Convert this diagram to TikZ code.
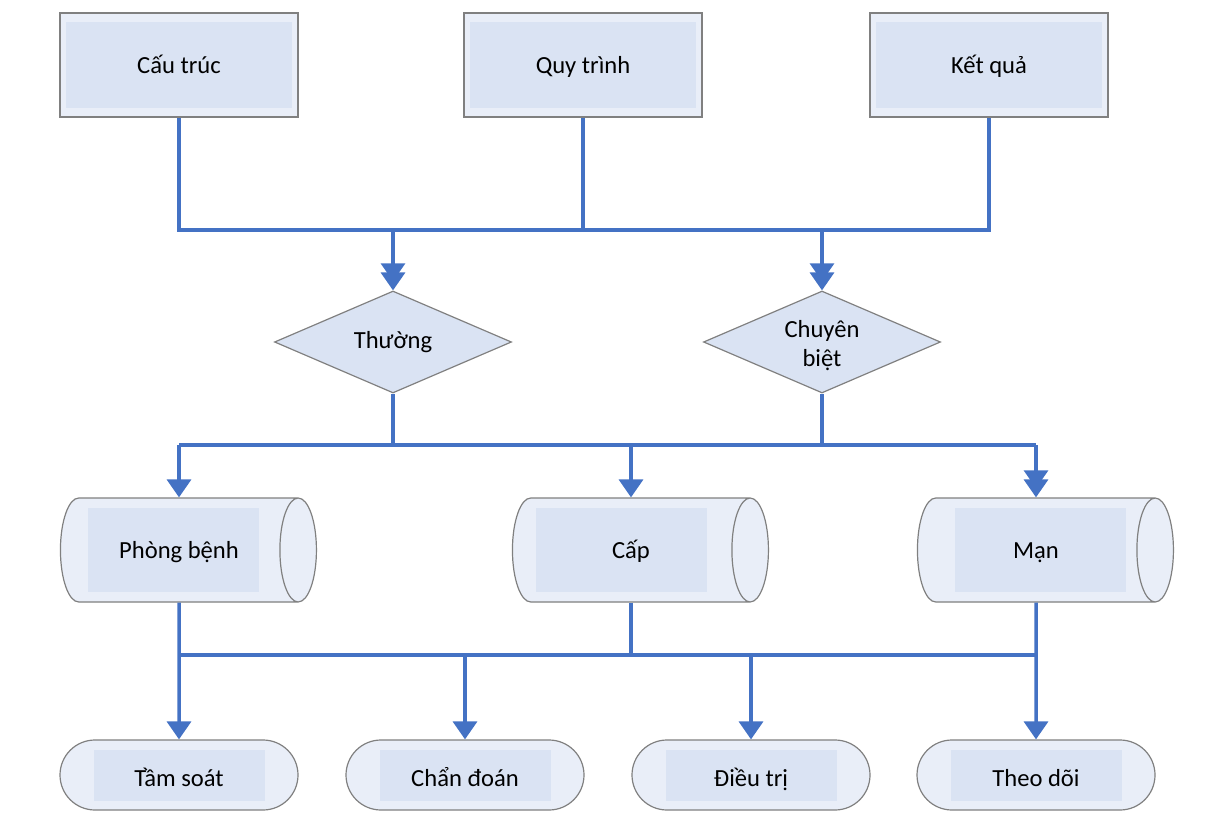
\documentclass[tikz,border=0pt]{standalone}
\usepackage{fontspec}
\setmainfont{Carlito}
\usepackage{xcolor}
\usetikzlibrary{arrows.meta}
\usetikzlibrary{shapes.geometric, shapes.misc}
\definecolor{myblue}{RGB}{68, 114, 196}
\definecolor{mygray}{RGB}{128, 128, 128}
\definecolor{outerfill}{RGB}{233, 238, 248}
\definecolor{innerfill}{RGB}{218, 227, 243}
\newlength\px
\setlength\px{0.02cm}

\begin{document}
\begin{tikzpicture}[x=1\px, y=-1\px,
  font=\fontsize{14}{16.5}\selectfont,
  base/.style={draw=mygray, line width=1.2\px, fill=outerfill, inner sep=0pt},
  txt/.style={text height=13pt, text depth=3pt},
  hl/.style n args={3}{path picture={\fill[innerfill] ([shift={(#1,0)}]path picture bounding box.center) ++(-#2/2,-#3/2) rectangle ++(#2,#3);}},
  topbox/.style={base, txt, rectangle, minimum width=238\px, minimum height=104\px, hl={0}{226}{86}},
  decision/.style={base, diamond, fill=innerfill, minimum width=237\px, minimum height=102\px, aspect=2.3, align=center},
  drum/.style={base, txt, cylinder, aspect=1.3, minimum width=104\px, minimum height=256\px, cylinder uses custom fill, cylinder body fill=outerfill, cylinder end fill=outerfill},
  pill/.style={base, txt, text height=16pt, rounded rectangle, minimum width=238\px, minimum height=70\px, hl={0}{171}{51}},
  link/.style={myblue, line width=3.5\px},
  arr/.style={link, -{Triangle[width=13.6pt, length=10.2pt]}},
  arr2/.style={link, -{Triangle[width=13.6pt, length=10.2pt, sep=-5pt]Triangle[width=13.6pt, length=10.2pt]}}
]
\useasboundingbox (0,0) rectangle (1230,824);

\node[topbox] (cau) at (179,65) {Cấu trúc};
\node[topbox] (quy) at (583,65) {Quy trình};
\node[topbox] (ket) at (989,65) {Kết quả};

\node[decision] (thuong) at (393,342) {Thường};
\node[decision, text height=31pt, text depth=3pt] (chuyen) at (822,342) {Chuyên\\biệt};

% the drum text sits left of the shape centre
\node[drum, hl={-15}{171}{84}] (phong) at (179,550) {Phòng bệnh};
\node[drum, hl={-19}{171}{84}] (cap) at (631,550) {Cấp};
\node[drum, hl={-5}{171}{84}] (man) at (1036,550) {Mạn};

\foreach \n/\x/\t in {tam/179/Tầm soát, chan/465/Chẩn đoán, dieu/751/Điều trị, theo/1036/Theo dõi}
  \node[pill] (\n) at (\x,775) {\t};

\coordinate (bus1) at (0,230);
\coordinate (bus2) at (0,445);
\coordinate (bus3) at (0,655);

\draw[link] (cau.south) -- (cau.south |- bus1) -- (ket.south |- bus1) -- (ket.south);
\draw[link] (quy.south) -- (quy.south |- bus1);
\draw[arr2] (thuong.north |- bus1) -- (thuong.north);
\draw[arr2] (chuyen.north |- bus1) -- (chuyen.north);

\draw[link] (thuong.south) -- (thuong.south |- bus2);
\draw[link] (chuyen.south) -- (chuyen.south |- bus2);
\draw[link] (phong.north |- bus2) -- (man.north |- bus2);
\draw[arr] (phong.north |- bus2) -- (phong.north);
\draw[arr] (cap.north |- bus2) -- (cap.north);
\draw[arr2] (man.north |- bus2) -- (man.north);

\draw[arr] (phong.south) -- (tam.north);
\draw[link] (cap.south) -- (cap.south |- bus3);
\draw[arr] (man.south) -- (theo.north);
\draw[link] (phong.south |- bus3) -- (man.south |- bus3);
\draw[arr] (chan.north |- bus3) -- (chan.north);
\draw[arr] (dieu.north |- bus3) -- (dieu.north);
\end{tikzpicture}
\end{document}
